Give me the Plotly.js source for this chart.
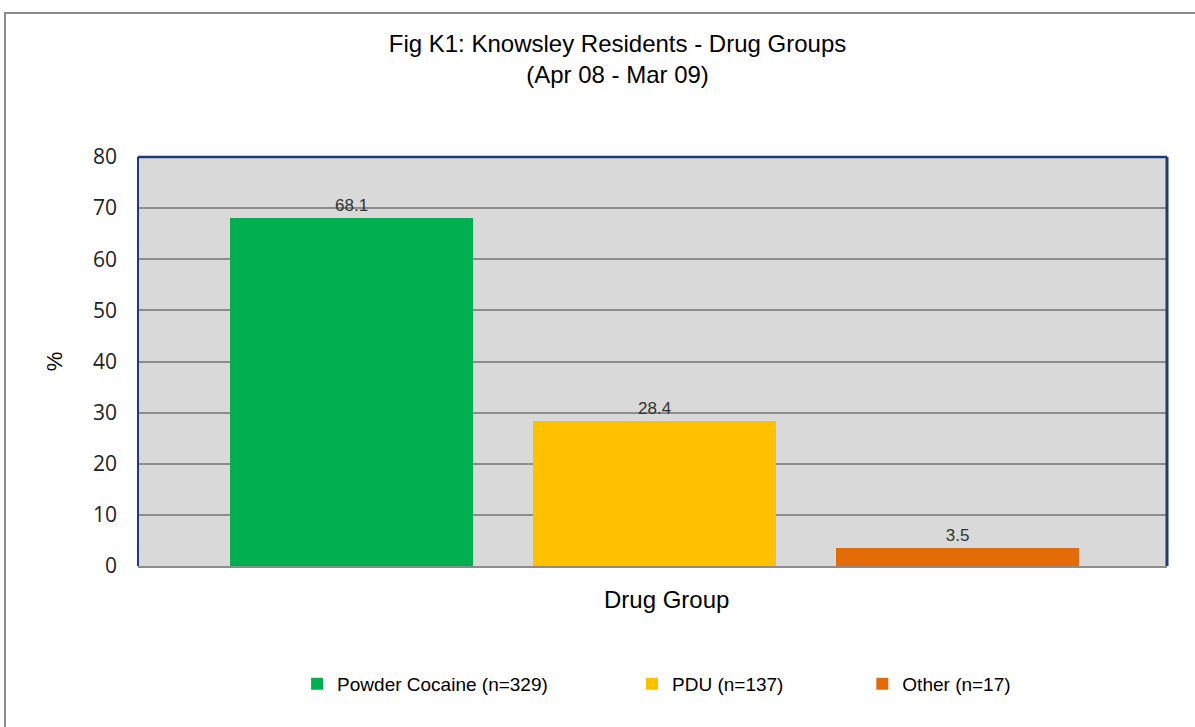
<!DOCTYPE html>
<html>
<head>
<meta charset="utf-8">
<script src="https://cdn.plot.ly/plotly-3.0.1.min.js"></script>
<style>
  html, body { margin: 0; padding: 0; background: #fff; }
  #wrap { position: relative; width: 1195px; height: 727px; }
  #chart { width: 1195px; height: 727px; }
  #frame { position: absolute; left: 4px; top: 12px; width: 1200px; height: 730px;
           border-top: 2px solid #8c8c8c; border-left: 2px solid #8c8c8c; pointer-events: none; }
</style>
</head>
<body>
<div id="wrap">
  <div id="chart"></div>
  <div id="frame"></div>
</div>
<script>
const categories = ["Powder Cocaine", "PDU", "Other"];
const seriesNames = ["Powder Cocaine (n=329)", "PDU (n=137)", "Other (n=17)"];
const values = [68.1, 28.4, 3.5];
const colors = ["#00b050", "#ffc000", "#e36c09"];
const labelPad = ["\u00a0".repeat(15), "\u00a0".repeat(14), ""];

const traces = categories.map((c, i) => ({
  type: "bar",
  x: [c],
  y: [values[i]],
  name: seriesNames[i] + labelPad[i],
  marker: { color: colors[i] },
  text: [values[i].toFixed(1)],
  textposition: "outside",
  cliponaxis: false,
  textfont: { family: "Liberation Sans, Arial, sans-serif", size: 17, color: "#333" },
  hoverinfo: "skip"
}));

const layout = {
  width: 1195, height: 727,
  margin: { l: 138, r: 28, t: 157, b: 161 },
  paper_bgcolor: "#ffffff",
  plot_bgcolor: "#d9d9d9",
  barmode: "stack",
  bargap: 0.2,
  showlegend: true,
  title: {
    text: "Fig K1: Knowsley Residents - Drug Groups<br>(Apr 08 - Mar 09)",
    font: { family: "Liberation Sans Narrow, Arial Narrow, sans-serif", size: 24, color: "#000" },
    x: 617.5 / 1195, xanchor: "center", xref: "container",
    y: 1 - 52 / 727, yanchor: "middle", yref: "container"
  },
  xaxis: {
    type: "category",
    categoryorder: "array",
    categoryarray: categories,
    range: [-0.705, 2.691],
    showticklabels: false,
    ticks: "",
    showline: true, linecolor: "#8c8c8c", linewidth: 2,
    showgrid: false
  },
  yaxis: {
    range: [0, 80],
    dtick: 10,
    showgrid: true, gridcolor: "#8c8c8c", gridwidth: 2,
    zeroline: false,
    showline: false,
    ticks: "", ticklen: 0,
    ticklabelstandoff: 20,
    tickfont: { family: "Open Sans, Liberation Sans, sans-serif", size: 21, color: "#222" },
    title: { text: "%", standoff: 24,
      font: { family: "Liberation Sans, Arial, sans-serif", size: 22, color: "#000" } }
  },
  annotations: [
    { text: "Drug Group", xref: "paper", yref: "paper",
      x: (666 - 138) / 1029, y: (566 - 599) / 409, xanchor: "center", yanchor: "middle",
      showarrow: false,
      font: { family: "Liberation Sans, Arial, sans-serif", size: 24, color: "#000" } }
  ],
  legend: {
    orientation: "h",
    x: 0.504, xanchor: "center",
    y: -0.288, yanchor: "middle",
    font: { family: "Liberation Sans Narrow, Arial Narrow, sans-serif", size: 19, color: "#000" },
    itemwidth: 30,
    traceorder: "normal"
  },
  shapes: [
    { type: "line", xref: "paper", yref: "paper", x0: 0, x1: 0, y0: 0, y1: 1,
      line: { color: "#1f3a78", width: 2 } },
    { type: "line", xref: "paper", yref: "paper", x0: 0, x1: 1, y0: 1, y1: 1,
      line: { color: "#1f3a78", width: 2.5 } },
    { type: "line", xref: "paper", yref: "paper", x0: 1, x1: 1, y0: 0, y1: 1,
      line: { color: "#1f3a78", width: 3 } }
  ]
};

Plotly.newPlot("chart", traces, layout, { displayModeBar: false, staticPlot: true });
</script>
</body>
</html>
